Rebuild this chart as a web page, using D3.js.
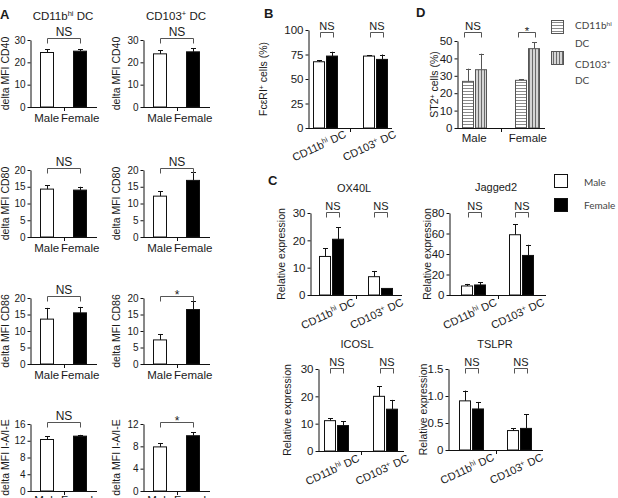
<!DOCTYPE html>
<html>
<head>
<meta charset="utf-8">
<script src="https://cdn.jsdelivr.net/npm/d3@7"></script>
<style>
body { margin: 0; background: #fff; }
svg text { font-family: "Liberation Sans", Arial, sans-serif; fill: #1a1a1a; white-space: pre; }
svg .lgd { font-family: Lato, "Open Sans", sans-serif; fill: #444; }
</style>
</head>
<body>
<svg id="fig" width="618" height="498"></svg>
<script>
// ---- data ----
var sexes = ["Male", "Female"];
var dcTypes = ["CD11b{hi} DC", "CD103{+} DC"];

// panel A: delta MFI, [male, female] per marker
var aMarkers = ["CD40", "CD80", "CD86", "I-A/I-E"];
var aCd11bMean = [[24.4, 25.0], [14.3, 14.0], [13.6, 15.5], [12.3, 13.1]];
var aCd11bErr  = [[1.4, 0.8], [1.2, 1.0], [3.4, 1.8], [0.8, 0.3]];
var aCd103Mean = [[23.8, 24.7], [12.2, 16.9], [7.3, 16.5], [7.9, 9.9]];
var aCd103Err  = [[1.6, 1.5], [1.5, 2.4], [1.8, 2.7], [0.7, 0.6]];
var aCd11bTicks = [[0, 10, 20, 30], [0, 5, 10, 15, 20], [0, 5, 10, 15, 20], [0, 4, 8, 12, 16]];
var aCd103Ticks = [[0, 10, 20, 30], [0, 5, 10, 15, 20], [0, 5, 10, 15, 20], [0, 4, 8, 12]];
var aCd11bSig = ["NS", "NS", "NS", "NS"];
var aCd103Sig = ["NS", "NS", "*", "*"];

// panel B: FceRI+ cells (%)
var bMale = [67.6, 73.4], bMaleErr = [1.5, 1.0];
var bFemale = [73.4, 70.0], bFemaleErr = [4.4, 5.0];
var bTicks = [0, 25, 50, 75, 100];
var bSig = ["NS", "NS"];

// panel D: ST2+ cells (%)
var dCd11b = [26.8, 27.4], dCd11bErr = [7.3, 0.6];
var dCd103 = [33.5, 45.6], dCd103Err = [9.2, 3.8];
var dTicks = [0, 10, 20, 30, 40, 50];
var dSig = ["NS", "*"];

// panel C: relative expression, [CD11bhi, CD103+]
var cGenes = ["OX40L", "Jagged2", "ICOSL", "TSLPR"];
var cMale      = [[14.1, 6.7], [8.8, 58.8], [11.1, 20.0], [0.91, 0.36]];
var cMaleErr   = [[3.0, 2.1], [2.0, 10.4], [0.9, 3.6], [0.19, 0.04]];
var cFemale    = [[20.4, 2.4], [9.8, 38.6], [9.3, 15.3], [0.76, 0.40]];
var cFemaleErr = [[4.3, 0], [2.6, 10.4], [1.5, 3.4], [0.13, 0.26]];
var cTicks = [[0, 10, 20, 30], [0, 20, 40, 60, 80], [0, 10, 20, 30], [0, 0.5, 1.0, 1.5]];
var cSig = [["NS", "NS"], ["NS", "NS"], ["NS", "NS"], ["NS", "NS"]];

var svg = d3.select("#fig");

// stripe patterns for panel D
var defs = svg.append("defs");
var ph = defs.append("pattern").attr("id", "hstripe").attr("patternUnits", "userSpaceOnUse")
  .attr("width", 4).attr("height", 3);
ph.append("rect").attr("width", 4).attr("height", 3).attr("fill", "#fff");
ph.append("line").attr("x1", 0).attr("x2", 4).attr("y1", 1.5).attr("y2", 1.5)
  .attr("stroke", "#8a8a8a").attr("stroke-width", 1);
var pv = defs.append("pattern").attr("id", "vstripe").attr("patternUnits", "userSpaceOnUse")
  .attr("width", 3).attr("height", 4);
pv.append("rect").attr("width", 3).attr("height", 4).attr("fill", "#e8e8e8");
pv.append("line").attr("x1", 1.5).attr("x2", 1.5).attr("y1", 0).attr("y2", 4)
  .attr("stroke", "#6a6a6a").attr("stroke-width", 1.3);

// text with {superscript} parts
function richText(sel, str) {
  str.split(/(\{[^}]*\})/).forEach(function (s) {
    if (!s) return;
    if (s[0] === "{")
      sel.append("tspan").attr("baseline-shift", "super").attr("font-size", "65%").text(s.slice(1, -1));
    else
      sel.append("tspan").text(s);
  });
}

function drawPanel(c) {
  var g = svg.append("g");
  var x = d3.scalePoint().domain(c.groups).range([c.x0, c.x1]).padding(c.pad);
  var y = d3.scaleLinear().domain([0, c.yMax]).range([c.yBot, c.yTop]);
  var n = c.series.length;

  var bars = [];
  c.series.forEach(function (s, si) {
    s.vals.forEach(function (v, gi) {
      var off = n === 1 ? 0 : (si - (n - 1) / 2) * (c.barW + 1);
      bars.push({cx: x(c.groups[gi]) + off, v: v, e: s.errs[gi], fill: c.fill(si, gi)});
    });
  });

  g.selectAll("rect.bar").data(bars).enter().append("rect")
    .attr("class", "bar")
    .attr("x", function (d) { return Math.round(d.cx - c.barW / 2) + 0.5; })
    .attr("y", function (d) { return y(d.v); })
    .attr("width", c.barW - 1)
    .attr("height", function (d) { return c.yBot - y(d.v); })
    .attr("fill", function (d) { return d.fill; })
    .attr("stroke", c.stroke).attr("stroke-width", 1);

  var eb = g.selectAll("g.err").data(bars.filter(function (d) { return d.e > 0; }))
    .enter().append("g").attr("class", "err").attr("stroke", c.stroke);
  eb.append("line")
    .attr("x1", function (d) { return Math.round(d.cx) + 0.5; })
    .attr("x2", function (d) { return Math.round(d.cx) + 0.5; })
    .attr("y1", function (d) { return y(d.v); })
    .attr("y2", function (d) { return y(d.v + d.e); });
  eb.append("line")
    .attr("x1", function (d) { return Math.round(d.cx) - 2; })
    .attr("x2", function (d) { return Math.round(d.cx) + 3; })
    .attr("y1", function (d) { return Math.round(y(d.v + d.e)) + 0.5; })
    .attr("y2", function (d) { return Math.round(y(d.v + d.e)) + 0.5; });

  // axes
  var ya = d3.axisLeft(y).tickValues(c.ticks).tickSize(3).tickSizeOuter(0).tickPadding(2)
    .tickFormat(c.fmt || d3.format("d"));
  var ag = g.append("g").attr("class", "yaxis")
    .attr("transform", "translate(" + (c.x0 + 0.5) + ",0)").call(ya);
  ag.attr("font-size", c.tickFs);
  ag.selectAll("path, line").attr("stroke", "#111");
  ag.selectAll("text").attr("fill", "#1a1a1a");

  g.append("line").attr("x1", c.x0).attr("x2", c.x1)
    .attr("y1", c.yBot + 0.5).attr("y2", c.yBot + 0.5).attr("stroke", "#111");
  var mid = Math.round((x(c.groups[0]) + x(c.groups[1])) / 2) + 0.5;
  g.append("line").attr("x1", mid).attr("x2", mid)
    .attr("y1", c.yBot).attr("y2", c.yBot + 4).attr("stroke", "#111");

  // category labels
  c.groups.forEach(function (name) {
    var t = g.append("text").attr("font-size", c.catFs);
    if (c.rot) {
      t.attr("text-anchor", "end")
        .attr("transform", "translate(" + (x(name) + c.rdx) + "," + (c.yBot + c.rdy) + ") rotate(-25)");
    } else {
      t.attr("text-anchor", "middle").attr("x", x(name)).attr("y", c.yBot + c.ldy);
    }
    richText(t, name);
  });

  // significance brackets
  c.sig.forEach(function (lbl, i) {
    var xa, xb;
    if (c.pair) { xa = x(c.groups[0]); xb = x(c.groups[1]); }
    else { var cx = x(c.groups[i]); xa = cx + c.bL; xb = cx + c.bR; }
    xa = Math.round(xa) + 0.5; xb = Math.round(xb) + 0.5;
    var by = c.by + 0.5;
    g.append("path")
      .attr("d", "M" + xa + "," + (by + 5) + "V" + by + "H" + xb + "V" + (by + 5))
      .attr("fill", "none").attr("stroke", "#555").attr("stroke-width", 1);
    g.append("text").attr("text-anchor", "middle").attr("font-size", c.sigFs)
      .attr("x", (xa + xb) / 2).attr("y", lbl === "*" ? by + 2 : by - 3).text(lbl);
  });

  // y label
  var yl = g.append("text").attr("font-size", c.ylFs).attr("text-anchor", "middle").attr("dy", "0.35em")
    .attr("transform", "translate(" + c.ylX + "," + ((c.yTop + c.yBot) / 2) + ") rotate(-90)");
  richText(yl, c.ylab);

  if (c.title) {
    g.append("text").attr("font-size", c.titleFs || 11).attr("text-anchor", "middle")
      .attr("x", c.titleX).attr("y", c.titleY).text(c.title);
  }
}

// ---- panel A ----
var aTop = [40, 170, 298, 424], aBot = [107, 237, 364, 491];
var aCols = [
  {x0: 30, x1: 97, ylX: 5, mean: aCd11bMean, err: aCd11bErr, ticks: aCd11bTicks, sig: aCd11bSig},
  {x0: 143, x1: 210, ylX: 116, mean: aCd103Mean, err: aCd103Err, ticks: aCd103Ticks, sig: aCd103Sig}
];
aCols.forEach(function (col) {
  aMarkers.forEach(function (m, r) {
    var t = col.ticks[r];
    drawPanel({
      groups: sexes, x0: col.x0, x1: col.x1, pad: 0.5, yTop: aTop[r], yBot: aBot[r],
      yMax: t[t.length - 1], ticks: t, barW: 14, stroke: "#111",
      series: [{vals: col.mean[r], errs: col.err[r]}],
      fill: function (si, gi) { return gi === 0 ? "#fff" : "#000"; },
      catFs: 11.5, ldy: r === 3 ? 13 : 15, tickFs: 10, sig: [col.sig[r]], pair: true, by: aTop[r] - 2, sigFs: 12,
      ylab: "delta MFI " + m, ylX: col.ylX, ylFs: 10.5
    });
  });
});
var aTitles = svg.append("g").attr("font-size", 11.5);
richText(aTitles.append("text").attr("x", 63).attr("y", 20).attr("text-anchor", "middle"), dcTypes[0]);
richText(aTitles.append("text").attr("x", 176).attr("y", 20).attr("text-anchor", "middle"), dcTypes[1]);

// ---- panel B ----
drawPanel({
  groups: dcTypes, x0: 308, x1: 392, pad: 0.34, yTop: 30, yBot: 128, yMax: 100, ticks: bTicks,
  barW: 12, stroke: "#111",
  series: [{vals: bMale, errs: bMaleErr}, {vals: bFemale, errs: bFemaleErr}],
  fill: function (si) { return si === 0 ? "#fff" : "#000"; },
  catFs: 11, rot: true, rdx: 22, rdy: 9, tickFs: 11.5,
  sig: bSig, bL: -5, bR: 8, by: 32, sigFs: 11,
  ylab: "FcεRI{+} cells (%)", ylX: 263, ylFs: 10.5
});

// ---- panel D ----
drawPanel({
  groups: sexes, x0: 457, x1: 545, pad: 0.32, yTop: 41, yBot: 128, yMax: 50, ticks: dTicks,
  barW: 12, stroke: "#555",
  series: [{vals: dCd11b, errs: dCd11bErr}, {vals: dCd103, errs: dCd103Err}],
  fill: function (si) { return si === 0 ? "url(#hstripe)" : "url(#vstripe)"; },
  catFs: 11.5, ldy: 14, tickFs: 11.5,
  sig: dSig, bL: -10, bR: 7, by: 32, sigFs: 11.5,
  ylab: "ST2{+} cells (%)", ylX: 434, ylFs: 10.5
});
var dLeg = svg.append("g");
[["url(#hstripe)", "CD11b{hi}", 20, 29, 47], ["url(#vstripe)", "CD103{+}", 51, 68, 84]].forEach(function (d) {
  dLeg.append("rect").attr("x", 551.5).attr("y", d[2] + 0.5).attr("width", 12).attr("height", 13)
    .attr("fill", d[0]).attr("stroke", "#555");
  richText(dLeg.append("text").attr("class", "lgd").attr("font-size", 10).attr("x", 575).attr("y", d[3]), d[1]);
  dLeg.append("text").attr("class", "lgd").attr("font-size", 10).attr("x", 575).attr("y", d[4]).text("DC");
});

// ---- panel C ----
var cLayout = [
  {x0: 310, x1: 402, pad: 0.45, yTop: 213, yBot: 295, ylX: 281, tx: 354, ty: 192},
  {x0: 449, x1: 546, pad: 0.52, yTop: 213, yBot: 295, ylX: 427, tx: 496, ty: 191},
  {x0: 318, x1: 404, pad: 0.37, yTop: 369, yBot: 451, ylX: 287, tx: 357, ty: 348},
  {x0: 448, x1: 543, pad: 0.47, yTop: 369, yBot: 450, ylX: 423, tx: 495, ty: 348}
];
cGenes.forEach(function (gene, i) {
  var L = cLayout[i], t = cTicks[i];
  drawPanel({
    groups: dcTypes, x0: L.x0, x1: L.x1, pad: L.pad, yTop: L.yTop, yBot: L.yBot,
    yMax: t[t.length - 1], ticks: t, barW: 12, stroke: "#111",
    fmt: i === 3 ? function (d) { return d === 0 ? "0" : d3.format(".1f")(d); } : null,
    series: [{vals: cMale[i], errs: cMaleErr[i]}, {vals: cFemale[i], errs: cFemaleErr[i]}],
    fill: function (si) { return si === 0 ? "#fff" : "#000"; },
    catFs: 11, rot: true, rdx: 24, rdy: 10, tickFs: 11.5,
    sig: cSig[i], bL: -6, bR: 7, by: L.yTop - 1, sigFs: 11,
    ylab: "Relative expression", ylX: L.ylX, ylFs: 10.5,
    title: gene, titleX: L.tx, titleY: L.ty, titleFs: 11
  });
});
var cLeg = svg.append("g");
[["#fff", "Male", 174, 186], ["#000", "Female", 198, 209]].forEach(function (d) {
  cLeg.append("rect").attr("x", 554.5).attr("y", d[2] + 0.5).attr("width", 13).attr("height", 13)
    .attr("fill", d[0]).attr("stroke", "#111");
  cLeg.append("text").attr("class", "lgd").attr("font-size", 10).attr("x", 584).attr("y", d[3]).text(d[1]);
});

// panel letters
[["A", 0, 19], ["B", 264, 18], ["C", 268, 185], ["D", 416, 17]].forEach(function (d) {
  svg.append("text").attr("font-size", 13).attr("font-weight", "bold").attr("x", d[1]).attr("y", d[2]).text(d[0]);
});
</script>
</body>
</html>
